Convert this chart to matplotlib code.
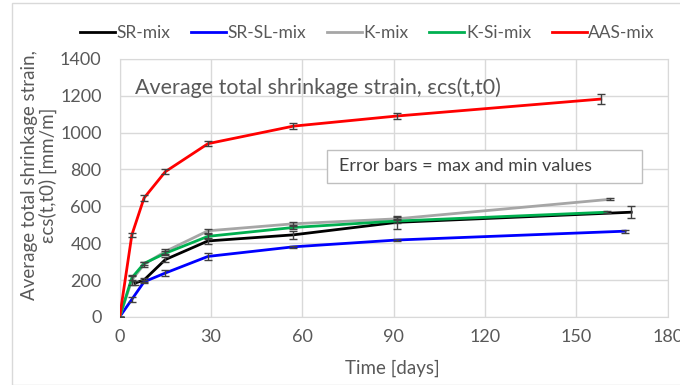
import matplotlib.pyplot as plt
from matplotlib.patches import Rectangle

# Time [days] and average total shrinkage strain [mm/m] per mix
days_sr = [5, 8, 15, 29, 57, 91, 168]
sr_mix = [183, 200, 311, 412, 445, 513, 568]
sr_err = [10, 10, 12, 15, 20, 35, 32]

days_sr_sl = [0, 4, 8, 15, 29, 57, 91, 166]
sr_sl_mix = [0, 95, 190, 238, 328, 380, 417, 465]
sr_sl_err = [0, 15, 8, 18, 18, 5, 5, 8]

days_k = [0, 4, 8, 15, 29, 57, 91, 161]
k_mix = [0, 200, 285, 355, 467, 505, 532, 638]
k_err = [0, 25, 15, 15, 12, 8, 8, 5]

days_k_si = [0, 4, 8, 15, 29, 57, 91, 160]
k_si_mix = [0, 212, 290, 345, 437, 485, 520, 568]
k_si_err = [0, 10, 10, 10, 12, 10, 10, 5]

days_aas = [0, 4, 8, 15, 29, 57, 91, 158]
aas_mix = [0, 445, 645, 788, 940, 1035, 1090, 1182]
aas_err = [0, 10, 15, 12, 15, 15, 15, 25]

x_ticks = [0, 30, 60, 90, 120, 150, 180]
y_ticks = [0, 200, 400, 600, 800, 1000, 1200, 1400]

txt = '#595959'
grid_col = '#d9d9d9'

plt.rcParams['font.family'] = ['Lato', 'DejaVu Sans']

fig = plt.figure(figsize=(6.8, 3.85), dpi=100)
ax = fig.add_axes([0.176, 0.177, 0.806, 0.670])

# outer chart border
fig.patches.append(Rectangle((12 / 680, 0.0), 1.0, 1 - 3 / 385, transform=fig.transFigure,
                             fill=False, edgecolor=grid_col, linewidth=1))

series = [
    (days_sr, sr_mix, sr_err, 'SR-mix', 'black'),
    (days_sr_sl, sr_sl_mix, sr_sl_err, 'SR-SL-mix', '#0000ff'),
    (days_k, k_mix, k_err, 'K-mix', '#a6a6a6'),
    (days_k_si, k_si_mix, k_si_err, 'K-Si-mix', '#00b050'),
    (days_aas, aas_mix, aas_err, 'AAS-mix', '#ff0000'),
]

for d, v, e, name, col in series:
    ax.plot(d, v, color=col, linewidth=2, label=name, zorder=3)
    ax.errorbar(d, v, yerr=e, fmt='none', ecolor='#404040', elinewidth=1,
                capsize=3, capthick=1, zorder=4)

ax.set_xlim(0, 180)
ax.set_ylim(0, 1400)
ax.set_xticks(x_ticks)
ax.set_yticks(y_ticks)
ax.tick_params(length=0, labelsize=13, labelcolor=txt)
ax.tick_params(axis='y', pad=13)
ax.tick_params(axis='x', pad=9)
ax.grid(True, color=grid_col, linewidth=1)
ax.set_axisbelow(True)
for s in ax.spines.values():
    s.set_color(grid_col)

ax.set_xlabel('Time [days]', fontsize=13.5, color=txt)
ax.xaxis.set_label_coords(0.498, -0.165)
ax.set_ylabel('Average total shrinkage strain,\nεcs(t,t0) [mm/m]', fontsize=13.5,
              color=txt, linespacing=1.05)
ax.yaxis.set_label_coords(-0.114, 0.55)

ax.text(0.028, 0.93, 'Average total shrinkage strain, εcs(t,t0)', transform=ax.transAxes,
        fontsize=15.5, color=txt, ha='left', va='top')

# note box with extra room on the right, as in the original
ax.add_patch(Rectangle((0.378, 0.519), 0.575, 0.128, transform=ax.transAxes,
                       facecolor='white', edgecolor='#bfbfbf', linewidth=1, zorder=5))
ax.text(0.401, 0.583, 'Error bars = max and min values', transform=ax.transAxes,
        fontsize=13, color='#404040', ha='left', va='center', zorder=6)

ax.legend(loc='center', bbox_to_anchor=(0.452, 1.101), ncol=5, frameon=False,
          fontsize=12.5, handlelength=2.0, handletextpad=0.1, columnspacing=1.2,
          labelcolor=txt, borderaxespad=0)

plt.savefig('out.png', dpi=100)
